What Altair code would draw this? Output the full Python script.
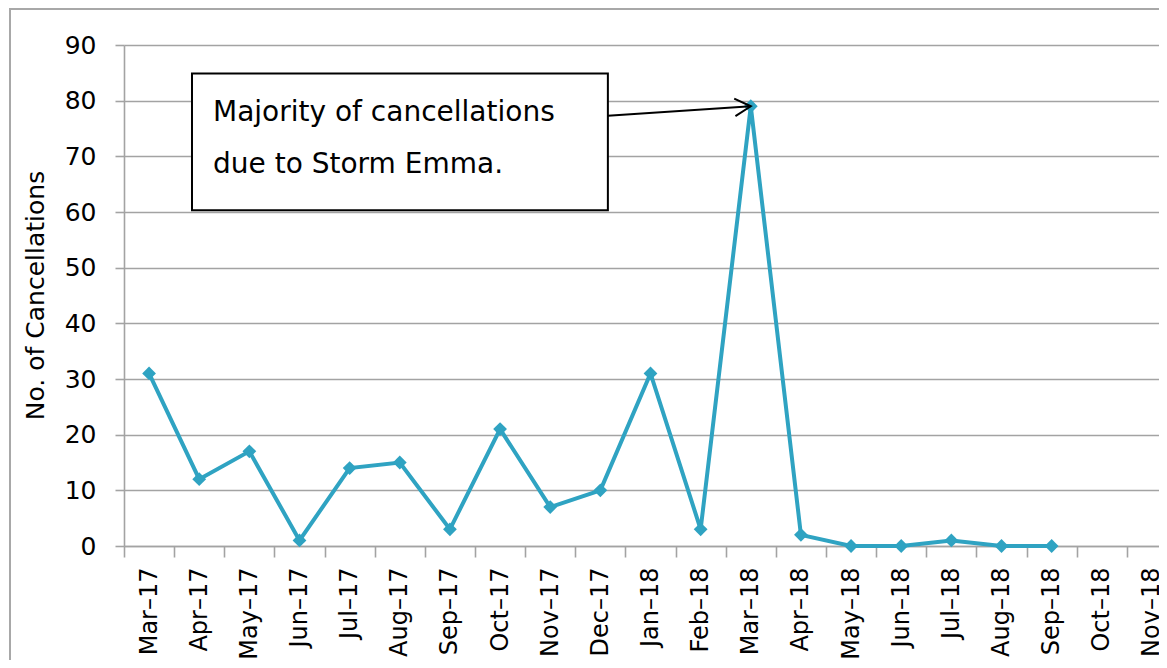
import altair as alt
import pandas as pd

# ---- data ----
months = ["Mar–17", "Apr–17", "May–17", "Jun–17", "Jul–17", "Aug–17", "Sep–17",
          "Oct–17", "Nov–17", "Dec–17", "Jan–18", "Feb–18", "Mar–18", "Apr–18",
          "May–18", "Jun–18", "Jul–18", "Aug–18", "Sep–18", "Oct–18", "Nov–18"]
cancellations = [31, 12, 17, 1, 14, 15, 3, 21, 7, 10, 31, 3, 79, 2, 0, 0, 1, 0, 0]
y_ticks = [0, 10, 20, 30, 40, 50, 60, 70, 80, 90]

note_lines = ["Majority of cancellations", "due to Storm Emma."]
note_line_y = [77.7, 68.4]
note_text_x = [1.775, 1.775]
box_x = [1.356, 9.65]
box_y = [60.3, 84.9]
arrow_from = [9.65, 77.3]
arrow_to = [12.5, 79]

FONT = "DejaVu Sans"
GRID = "#A3A3A3"
LINE = "#2FA3C2"
X_RANGE = [0, 1053]

df = pd.DataFrame({"month": months[:len(cancellations)], "count": cancellations})
box_df = pd.DataFrame({"x1": [box_x[0]], "x2": [box_x[1]], "y1": [box_y[0]], "y2": [box_y[1]]})
text_df = pd.DataFrame({"x": note_text_x, "y": note_line_y, "t": note_lines})
arrow_df = pd.DataFrame({"x1": [arrow_from[0]], "y1": [arrow_from[1]],
                         "x2": [arrow_to[0]], "y2": [arrow_to[1]]})
frame_df = pd.DataFrame({"k": [0]})

yscale = alt.Scale(domain=[0, 90], nice=False)
yaxis = alt.Axis(values=y_ticks, title="No. of Cancellations", titleFont=FONT,
                 titleFontSize=25, titleFontWeight="normal", titleColor="black",
                 titleAngle=270, titleX=-89, titleY=250, titleAlign="center",
                 titleBaseline="middle",
                 labelFont=FONT, labelFontSize=25, labelColor="black", labelPadding=19,
                 grid=True, gridColor=GRID, gridWidth=1.6,
                 domainColor=GRID, domainWidth=1.6,
                 tickColor=GRID, tickWidth=1.6, tickSize=9)

xcat = alt.X("month:N", sort=months,
             scale=alt.Scale(type="band", domain=months, range=X_RANGE,
                             paddingInner=0, paddingOuter=0),
             axis=alt.Axis(title=None, labelAngle=270, labelAlign="right",
                           labelBaseline="middle", labelFont=FONT, labelFontSize=24,
                           labelColor="black", labelPadding=10, labelOverlap=False,
                           tickBand="extent", tickColor=GRID, tickWidth=1.6, tickSize=11,
                           domainColor=GRID, domainWidth=1.6, grid=False))

series = alt.Chart(df).mark_line(
    color=LINE, strokeWidth=4,
    point=alt.OverlayMarkDef(shape="diamond", filled=True, size=190, color=LINE, opacity=1),
).encode(x=xcat, y=alt.Y("count:Q", scale=yscale, axis=yaxis))

qx = alt.Scale(domain=[0, 21], range=X_RANGE, nice=False, zero=False)

frame = alt.Chart(frame_df).mark_rect(fillOpacity=0, stroke="#A8A8A8", strokeWidth=2).encode(
    x=alt.value(-114), x2=alt.value(1300), y=alt.value(-36), y2=alt.value(900))

box = alt.Chart(box_df).mark_rect(fill="white", stroke="black", strokeWidth=2).encode(
    x=alt.X("x1:Q", scale=qx, axis=None), x2="x2:Q",
    y=alt.Y("y1:Q", scale=yscale), y2="y2:Q")

txt = alt.Chart(text_df).mark_text(align="left", baseline="middle", font=FONT,
                                   fontSize=28, color="black").encode(
    x=alt.X("x:Q", scale=qx, axis=None), y=alt.Y("y:Q", scale=yscale), text="t:N")

arrow = alt.Chart(arrow_df).mark_rule(color="black", strokeWidth=2).encode(
    x=alt.X("x1:Q", scale=qx, axis=None), x2="x2:Q",
    y=alt.Y("y1:Q", scale=yscale), y2="y2:Q")

head = alt.Chart(arrow_df).mark_point(shape="M-1,-0.55L0,0L-1,0.55", filled=False,
                                      stroke="black", strokeWidth=2, size=1024,
                                      angle=356, opacity=1).encode(
    x=alt.X("x2:Q", scale=qx, axis=None), y=alt.Y("y2:Q", scale=yscale))

annot = alt.layer(frame, box, txt, arrow, head)

chart = alt.layer(series, annot).resolve_scale(
    x="independent"
).properties(
    width=1035, height=501,
    autosize=alt.AutoSizeParams(type="none"),
    padding={"left": 116, "top": 37, "right": 0, "bottom": 114},
    background="white",
).configure_view(stroke=None)

chart.save("out.html", embed_options={"renderer": "svg", "actions": False})
